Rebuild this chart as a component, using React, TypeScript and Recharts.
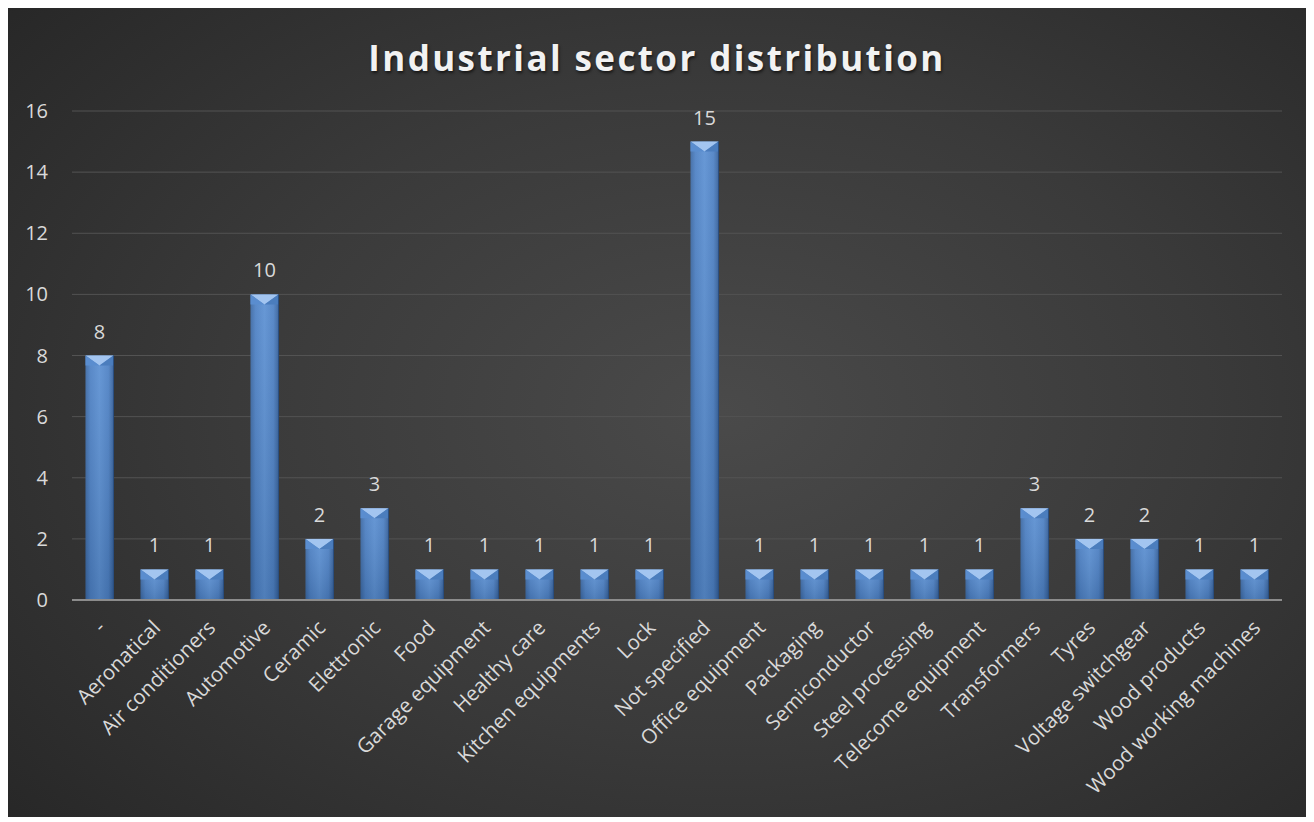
import React from 'react';
import { BarChart, Bar, XAxis, YAxis, CartesianGrid, LabelList } from 'recharts';

const categories = [
  '-', 'Aeronatical', 'Air conditioners', 'Automotive', 'Ceramic', 'Elettronic', 'Food',
  'Garage equipment', 'Healthy care', 'Kitchen equipments', 'Lock', 'Not specified',
  'Office equipment', 'Packaging', 'Semiconductor', 'Steel processing', 'Telecome equipment',
  'Transformers', 'Tyres', 'Voltage switchgear', 'Wood products', 'Wood working machines',
];
const counts = [8, 1, 1, 10, 2, 3, 1, 1, 1, 1, 1, 15, 1, 1, 1, 1, 1, 3, 2, 2, 1, 1];
const yTicks = [0, 2, 4, 6, 8, 10, 12, 14, 16];

const data = categories.map((name, i) => ({ name, value: counts[i] }));

const FONT = '"Open Sans", sans-serif';
const TEXT = '#d9d9d9';

// bar with an "angle" bevel on its top face
const BevelBar = (props: any) => {
  const { x, y, width, height } = props;
  if (!height || height <= 0) return null;
  const b = Math.min(10, height);
  return (
    <g>
      <rect x={x} y={y} width={width} height={height} fill="url(#barSide)" />
      <rect x={x} y={y} width={width} height={height} fill="url(#barShade)" />
      <polygon points={`${x},${y} ${x + width},${y} ${x + width / 2},${y + b}`} fill="#a3c5f0" />
      <polygon points={`${x},${y} ${x + width / 2},${y + b} ${x},${y + b}`} fill="#5a8dcf" />
      <polygon points={`${x + width},${y} ${x + width / 2},${y + b} ${x + width},${y + b}`} fill="#4b7dbd" />
      <line x1={x + width} y1={y} x2={x + width} y2={y + height} stroke="#2b4f80" strokeWidth={1} />
    </g>
  );
};

const XTick = (props: any) => {
  const { x, y, payload } = props;
  return (
    <g transform={`translate(${x + 2},${y + 22})`}>
      <text transform="rotate(-45)" textAnchor="end" dy="0.35em" fill={TEXT} fontSize={20.5} fontFamily={FONT}>
        {payload.value}
      </text>
    </g>
  );
};

const YTick = (props: any) => {
  const { x, y, payload } = props;
  return (
    <text x={x - 22} y={y} dy="0.35em" textAnchor="end" fill={TEXT} fontSize={20} fontFamily={FONT}>
      {payload.value}
    </text>
  );
};

const ValueLabel = (props: any) => {
  const { x, y, width, value } = props;
  return (
    <text x={x + width / 2} y={y - 17} textAnchor="middle" fill={TEXT} fontSize={20} fontFamily={FONT}>
      {value}
    </text>
  );
};

export default function App() {
  return (
    <div
      style={{
        position: 'relative',
        marginTop: -3,
        width: 1298,
        height: 812,
        background: 'radial-gradient(ellipse 75% 80% at 55% 50%, #4a4a4a 0%, #3a3a3a 50%, #262626 100%)',
      }}
    >
      <div
        style={{
          position: 'absolute',
          top: 29,
          left: 0,
          width: '100%',
          textAlign: 'center',
          fontFamily: FONT,
          fontWeight: 700,
          fontSize: 35,
          letterSpacing: 2.4,
          color: '#f2f2f2',
          textShadow: '1px 2px 3px rgba(0,0,0,0.6)',
        }}
      >
        Industrial sector distribution
      </div>
      <BarChart
        width={1298}
        height={812}
        data={data}
        margin={{ top: 106, right: 24, left: 0, bottom: 0 }}
        barCategoryGap="24.5%"
        style={{ position: 'absolute', top: 0, left: 0 }}
      >
        <defs>
          <linearGradient id="barSide" x1="0" y1="0" x2="1" y2="0">
            <stop offset="0%" stopColor="#3a67a2" />
            <stop offset="18%" stopColor="#4c80c4" />
            <stop offset="50%" stopColor="#5a8fd2" />
            <stop offset="82%" stopColor="#4c80c4" />
            <stop offset="100%" stopColor="#35609a" />
          </linearGradient>
          <linearGradient id="barShade" x1="0" y1="0" x2="0" y2="1">
            <stop offset="0%" stopColor="#ffffff" stopOpacity={0.08} />
            <stop offset="100%" stopColor="#000000" stopOpacity={0.12} />
          </linearGradient>
        </defs>
        <CartesianGrid vertical={false} stroke="#535353" strokeWidth={1} />
        <XAxis
          dataKey="name"
          interval={0}
          height={217}
          tickLine={false}
          tickSize={0}
          tick={<XTick />}
          axisLine={{ stroke: '#8c8c8c', strokeWidth: 2 }}
        />
        <YAxis
          width={64}
          domain={[0, 16]}
          ticks={yTicks}
          axisLine={false}
          tickLine={false}
          tickSize={0}
          tick={<YTick />}
        />
        <Bar dataKey="value" shape={<BevelBar />} isAnimationActive={false}>
          <LabelList dataKey="value" content={<ValueLabel />} />
        </Bar>
      </BarChart>
    </div>
  );
}
